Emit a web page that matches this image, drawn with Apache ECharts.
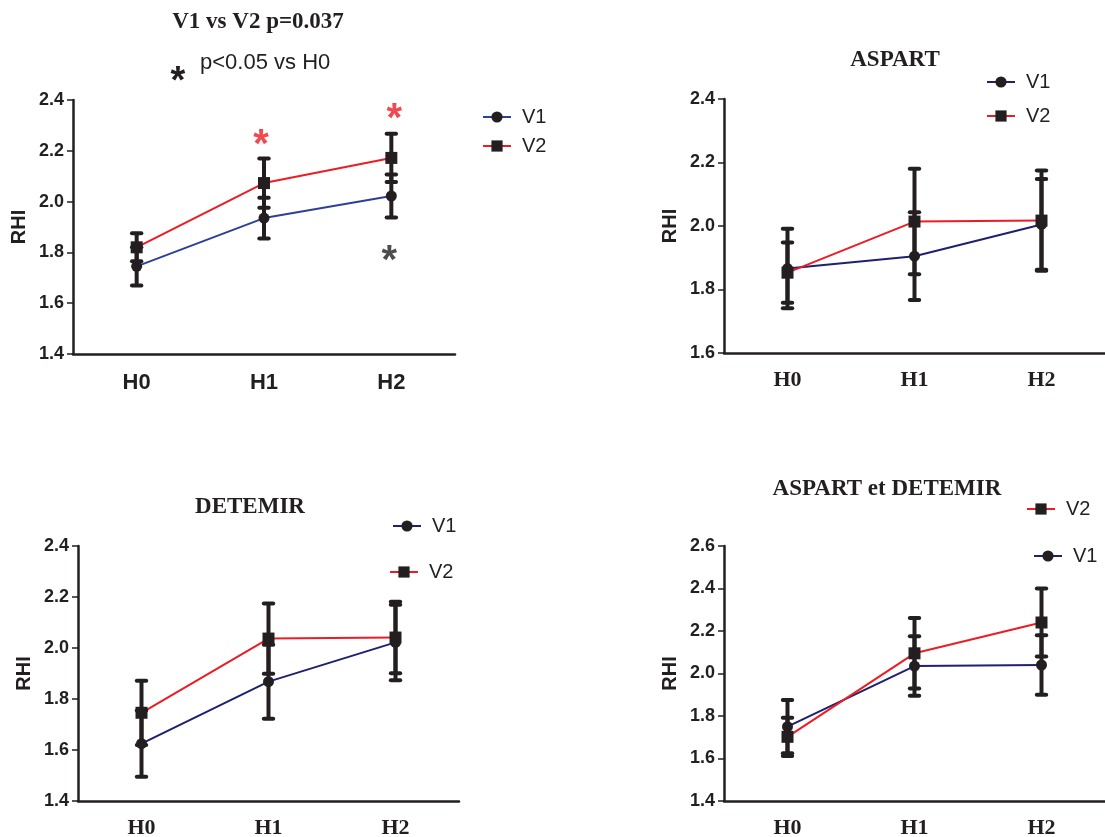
<!DOCTYPE html>
<html>
<head>
<meta charset="utf-8">
<script src="https://cdn.jsdelivr.net/npm/echarts@6/dist/echarts.min.js"></script>
<style>html,body{margin:0;padding:0;background:#fff;}#c{width:1105px;height:837px;}</style>
</head>
<body>
<div id="c"></div>
<script>
// ---------- data ----------
const categories = ['H0', 'H1', 'H2'];

// Panel 1 : V1 vs V2 p=0.037
const p1V1Mean = [1.745, 1.935, 2.022];
const p1V1Sem  = [0.075, 0.080, 0.085];
const p1V2Mean = [1.820, 2.073, 2.172];
const p1V2Sem  = [0.055, 0.097, 0.095];
// significance asterisks (category index, value, colour)
const p1Stars = [[1, 2.262, 'red'], [2, 2.365, 'red'], [2, 1.806, 'black']];

// Panel 2 : ASPART
const p2V1Mean = [1.866, 1.905, 2.005];
const p2V1Sem  = [0.125, 0.138, 0.143];
const p2V2Mean = [1.853, 2.014, 2.017];
const p2V2Sem  = [0.095, 0.166, 0.158];

// Panel 3 : DETEMIR
const p3V1Mean = [1.625, 1.868, 2.022];
const p3V1Sem  = [0.130, 0.145, 0.148];
const p3V2Mean = [1.746, 2.037, 2.041];
const p3V2Sem  = [0.126, 0.138, 0.140];

// Panel 4 : ASPART et DETEMIR
const p4V1Mean = [1.750, 2.035, 2.040];
const p4V1Sem  = [0.125, 0.140, 0.140];
const p4V2Mean = [1.702, 2.095, 2.240];
const p4V2Sem  = [0.090, 0.166, 0.160];

// y-axis ranges
const yRanges = [[1.4, 2.4], [1.6, 2.4], [1.4, 2.4], [1.4, 2.6]];
const yInterval = 0.2;

// ---------- styling ----------
const INK = '#231f20';
const RED = '#ed1c24';
const BLUE1 = '#2e3f9a';
const NAVY = '#1f2070';
const SANS = 'Liberation Sans, Arial, sans-serif';
const SERIF = 'Liberation Serif, Times New Roman, serif';

const grids = [
  {left: 73, top: 100, width: 382, height: 254},
  {left: 724, top: 99, width: 381, height: 254},
  {left: 78, top: 546, width: 381, height: 255},
  {left: 724, top: 546, width: 381, height: 255}
].map(g => Object.assign({outerBoundsMode: 'none', containLabel: false}, g));

function xAxis(gi, serif) {
  return {
    type: 'category', gridIndex: gi, data: categories, boundaryGap: true,
    axisLine: {lineStyle: {color: INK, width: 2.5}},
    axisTick: {alignWithLabel: true, length: 5, lineStyle: {color: INK, width: 1.5}},
    axisLabel: {color: INK, fontFamily: serif ? SERIF : SANS, fontWeight: 'bold', fontSize: 22, margin: serif ? 16 : 18}
  };
}
function yAxis(gi) {
  return {
    type: 'value', gridIndex: gi, min: yRanges[gi][0], max: yRanges[gi][1], interval: yInterval,
    name: 'RHI', nameLocation: 'middle', nameGap: 44, nameRotate: 90,
    nameTextStyle: {color: INK, fontFamily: SANS, fontWeight: 'bold', fontSize: 20},
    axisLine: {show: true, lineStyle: {color: INK, width: 2.5}},
    axisTick: {show: true, length: 6, lineStyle: {color: INK, width: 1.5}},
    splitLine: {show: false},
    axisLabel: {color: INK, fontFamily: SANS, fontWeight: 'bold', fontSize: 18, margin: 9,
      formatter: v => v.toFixed(1)}
  };
}

function lineSeries(name, gi, data, color, symbol) {
  return {
    type: 'line', name: name, xAxisIndex: gi, yAxisIndex: gi, data: data,
    symbol: symbol, symbolSize: symbol === 'circle' ? 11 : 12,
    lineStyle: {color: color, width: 2}, itemStyle: {color: INK},
    emphasis: {disabled: true}, z: 2, animation: false
  };
}
function errRender(params, api) {
  const x = api.value(0);
  const lo = api.coord([x, api.value(1)]);
  const hi = api.coord([x, api.value(2)]);
  const hw = 4.7;
  const st = {stroke: INK, lineWidth: 4, lineCap: 'round'};
  return {type: 'group', children: [
    {type: 'line', shape: {x1: lo[0], y1: lo[1], x2: hi[0], y2: hi[1]}, style: {stroke: INK, lineWidth: 4}},
    {type: 'line', shape: {x1: lo[0] - hw, y1: lo[1], x2: lo[0] + hw, y2: lo[1]}, style: st},
    {type: 'line', shape: {x1: hi[0] - hw, y1: hi[1], x2: hi[0] + hw, y2: hi[1]}, style: st}
  ]};
}
function errSeries(gi, mean, sem) {
  return {
    type: 'custom', name: 'err' + gi, xAxisIndex: gi, yAxisIndex: gi,
    data: mean.map((m, i) => [i, +(m - sem[i]).toFixed(4), +(m + sem[i]).toFixed(4)]),
    encode: {x: 0, y: [1, 2]}, renderItem: errRender, z: 3, silent: true, animation: false
  };
}

const series = [];
const panels = [
  {v1m: p1V1Mean, v1s: p1V1Sem, v2m: p1V2Mean, v2s: p1V2Sem, blue: BLUE1},
  {v1m: p2V1Mean, v1s: p2V1Sem, v2m: p2V2Mean, v2s: p2V2Sem, blue: NAVY},
  {v1m: p3V1Mean, v1s: p3V1Sem, v2m: p3V2Mean, v2s: p3V2Sem, blue: NAVY},
  {v1m: p4V1Mean, v1s: p4V1Sem, v2m: p4V2Mean, v2s: p4V2Sem, blue: NAVY}
];
panels.forEach((p, gi) => {
  series.push(lineSeries('V1#' + gi, gi, p.v1m, p.blue, 'circle'));
  series.push(lineSeries('V2#' + gi, gi, p.v2m, RED, 'rect'));
  series.push(errSeries(gi, p.v1m, p.v1s));
  series.push(errSeries(gi, p.v2m, p.v2s));
});
// star annotations panel 1
p1Stars.forEach((s, k) => {
  series.push({
    type: 'scatter', name: 'star' + k, xAxisIndex: 0, yAxisIndex: 0,
    data: [[s[0], s[1]]], symbolSize: 0, silent: true, animation: false, z: 5,
    label: {show: true, position: 'inside', formatter: '*', color: s[2] === 'red' ? RED : INK,
      fontFamily: SANS, fontWeight: 'bold', fontSize: 40,
      offset: [k === 0 ? -3 : (k === 1 ? 3 : -2), 11]}
  });
});

function legend(name, left, top) {
  return {
    data: [name], left: left, top: top, orient: 'vertical', itemWidth: 28, itemHeight: 14,
    padding: 0, selectedMode: false, formatter: n => n.split('#')[0],
    textStyle: {color: INK, fontFamily: SANS, fontSize: 20, lineHeight: 20, padding: [0, 0, 0, 6]}
  };
}
const legends = [
  legend('V1#0', 482, 107), legend('V2#0', 482, 136),
  legend('V1#1', 986, 72), legend('V2#1', 986, 106),
  legend('V1#2', 392, 516), legend('V2#2', 389, 562),
  legend('V2#3', 1026, 499), legend('V1#3', 1033, 546)
];

const titleFont = 'bold 23px ' + SERIF;
const graphic = [
  {type: 'text', x: 258, y: 22, style: {text: 'V1 vs V2 p=0.037', font: titleFont, fill: INK, textAlign: 'center', textVerticalAlign: 'middle'}},
  {type: 'text', x: 178, y: 83, style: {text: '*', font: 'bold 38px ' + SANS, fill: INK, textAlign: 'center', textVerticalAlign: 'middle'}},
  {type: 'text', x: 200, y: 63, style: {text: 'p<0.05 vs H0', font: '22px ' + SANS, fill: INK, textAlign: 'left', textVerticalAlign: 'middle'}},
  {type: 'text', x: 895, y: 60, style: {text: 'ASPART', font: titleFont, fill: INK, textAlign: 'center', textVerticalAlign: 'middle'}},
  {type: 'text', x: 250, y: 507, style: {text: 'DETEMIR', font: titleFont, fill: INK, textAlign: 'center', textVerticalAlign: 'middle'}},
  {type: 'text', x: 887, y: 489, style: {text: 'ASPART et DETEMIR', font: titleFont, fill: INK, textAlign: 'center', textVerticalAlign: 'middle'}}
];

const chart = echarts.init(document.getElementById('c'), null, {renderer: 'canvas'});
chart.setOption({
  animation: false,
  backgroundColor: '#fff',
  grid: grids,
  xAxis: [xAxis(0, false), xAxis(1, true), xAxis(2, true), xAxis(3, true)],
  yAxis: [yAxis(0), yAxis(1), yAxis(2), yAxis(3)],
  legend: legends,
  graphic: graphic,
  series: series
});
</script>
</body>
</html>
